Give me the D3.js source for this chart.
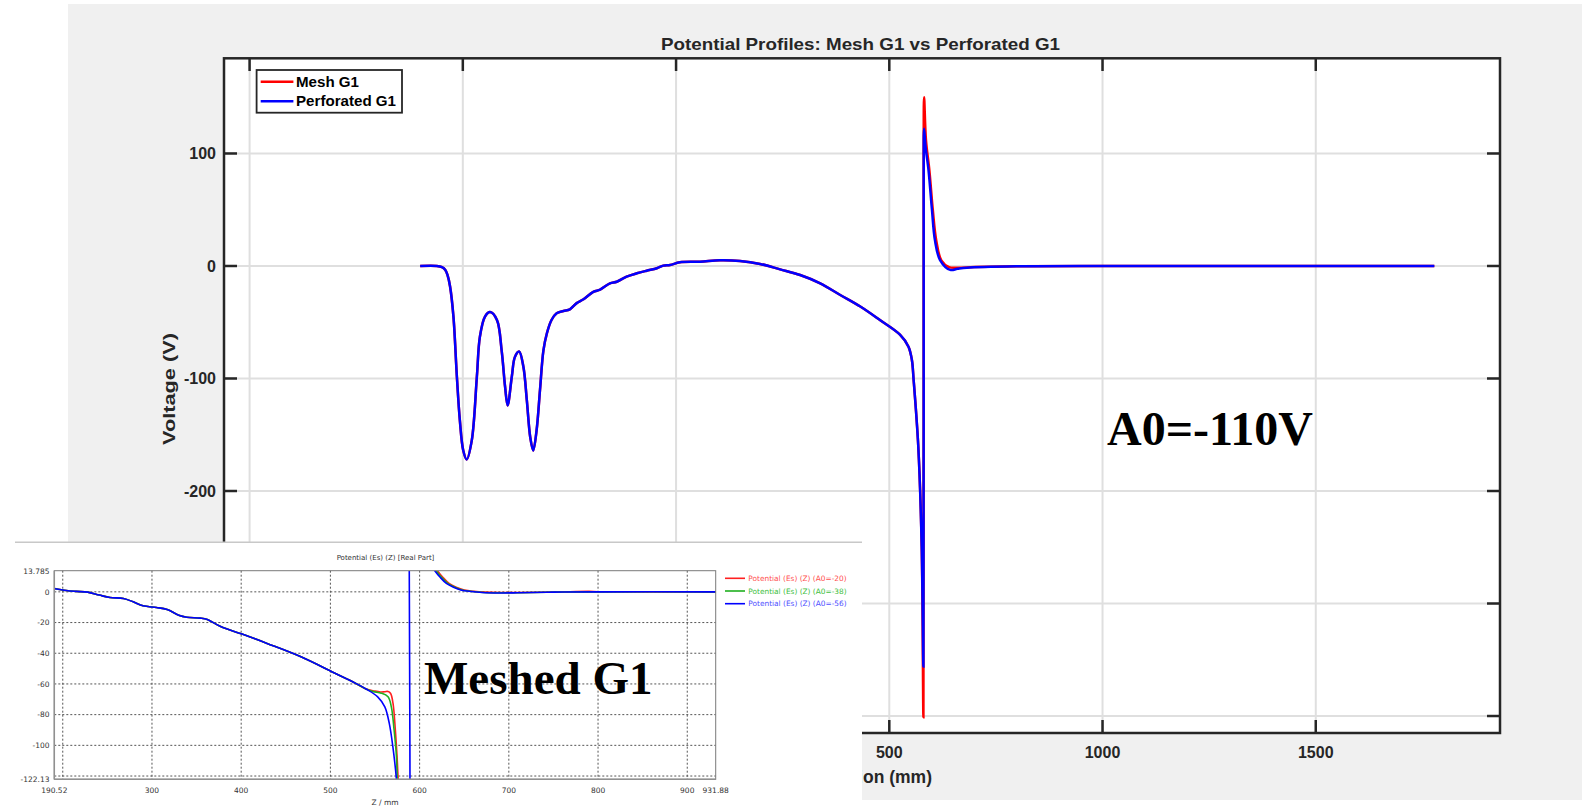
<!DOCTYPE html>
<meta charset="utf-8">
<head>
  <title>Potential Profiles: Mesh G1 vs Perforated G1</title>
  <style>
    body { margin: 0; background: #fff; }
    svg { display: block; }
  </style>
</head>
<body>
  <svg id="viz" width="1582" height="806"></svg>

  <script src="https://cdn.jsdelivr.net/npm/d3@7"></script>
  <script>
    // ---- main chart data (z in mm, voltage in V) ----
    // shared profile up to the G1 plane
    var profileZ = [-600, -561, -549, -541, -536, -530, -522, -514, -507, -499, -491, -479, -467, -460, -448, -436,
      -420, -409, -401, -395, -385, -378, -368, -358, -350, -342, -335, -327, -319, -311, -303, -292, -280, -264,
      -249, -233, -217, -194, -178, -155, -139, -116, -92, -69, -45, -30, -14, 9, 56, 103, 150, 197, 244, 291,
      338, 385, 432, 478, 525, 545, 553, 557, 568, 576];
    var profileV = [0, 0, -1, -3.5, -8, -18, -45, -98, -137, -164, -172, -155, -98, -63, -45, -41,
      -48, -75, -107, -124, -98, -81, -76, -89.5, -119, -152, -164, -146, -110, -75, -60, -48, -42, -40,
      -38.5, -33, -29.6, -23, -21, -15.4, -14, -9.5, -6.5, -4.2, -2, 0.3, 0.9, 3.3, 3.8, 5, 4.4, 1.8, -3, -8,
      -15.4, -25.8, -36, -48, -61, -71.7, -83.6, -101, -160.6, -249.5];

    // spike at the grid plane and relaxation, per series
    var meshZ = [580, 580.6, 581.6, 586, 594, 602, 610, 622, 640, 660, 700, 800, 1000, 1300, 1600, 1778];
    var meshV = [-401, 100, 150, 112, 85, 50, 23, 5, -1, -1.5, -1, -0.3, 0, 0, 0, 0];
    var perfZ = [580, 580.6, 581.6, 585, 592, 600, 607, 619, 643, 660, 682, 800, 1000, 1300, 1600, 1778];
    var perfV = [-356, 80, 122, 106, 85, 50, 23, 5.3, -3.5, -2.5, -1.5, -0.3, 0, 0, 0, 0];

    var xTicks = [-1000, -500, 0, 500, 1000, 1500];
    var yTicks = [100, 0, -100, -200, -300, -400];

    // ---- inset data (Potential (Es) (Z)); null = curve leaves the window ----
    var insetBaseZ = [190.52, 204, 215, 228, 241, 253, 268, 279, 290, 305, 317, 330, 339, 354, 362, 377,
      401, 429, 467, 504, 527, 540];
    var insetBaseV = [2.2, 0.9, 0.3, -0.2, -2.1, -3.7, -4.3, -6.5, -9.1, -10.2, -11.5, -15.2, -16.5, -17.1,
      -18, -22.6, -27.5, -33.6, -42.3, -52.7, -59.2, -63.3];
    var insetRedZ = [549.5, 556, 560.8, 564.6, 567.5, 570.2, 572.8, 574.7, 575.9, 580, 584, 587.6, 598, 606,
      613, 620, 626, 633, 641, 650, 661, 673, 693, 713, 753, 790, 800, 931.88];
    var insetRedV = [-64.6, -65.2, -65.1, -64.9, -66.2, -72.7, -90, -107, -122, -180, null, 250, 60, 30,
      20, 13.8, 9.5, 5.5, 3, 1.2, 0.3, -0.2, -0.4, -0.4, -0.1, 0.3, 0.1, 0];
    var insetGreenZ = [548, 557, 564.6, 568.3, 571.4, 574, 575, 580, 584, 587.6, 596.5, 604.5, 611.5, 618.5,
      624.5, 631.5, 639.5, 648.5, 659.5, 671.5, 691.5, 711.5, 751.5, 800, 931.88];
    var insetGreenV = [-65, -66, -68.4, -74.9, -90, -107, -122, -180, null, 250, 60, 30, 20, 13.8,
      9.5, 5.5, 3, 1.1, 0.2, -0.4, -0.6, -0.6, -0.2, 0, 0];
    var insetBlueZ = [553, 561, 566, 570, 574, 578, 587.4, 587.6, 595, 603, 610, 617, 623, 630, 638, 647, 658,
      670, 690, 710, 750, 800, 931.88];
    var insetBlueV = [-68.4, -74.9, -85.7, -100.9, -122, -160, -250, 250, 60, 30, 20, 13.8, 9.5, 5.5, 3,
      1.1, 0.2, -0.4, -0.7, -0.6, -0.2, 0, 0];

    var insetXTicks = [190.52, 300, 400, 500, 600, 700, 800, 900, 931.88];
    var insetXGrid = [200, 300, 400, 500, 600, 700, 800, 900];
    var insetYTicks = [13.785, 0, -20, -40, -60, -80, -100, -122.13];
    var insetYGrid = [0, -20, -40, -60, -80, -100, -120];
    var insetLabels = ['Potential (Es) (Z) (A0=-20)', 'Potential (Es) (Z) (A0=-38)', 'Potential (Es) (Z) (A0=-56)'];

    function zip(zs, vs) {
      return zs.map(function (z, i) { return { z: z, v: vs[i] }; });
    }

    var svg = d3.select('#viz');
    var ink = '#262626';
    var mainFont = '"Liberation Sans", Arial, sans-serif';

    // ================= main MATLAB-style figure =================
    var x = d3.scaleLinear().domain([-1060, 1932]).range([224, 1500]);
    var y = d3.scaleLinear().domain([184.6, -415.1]).range([58.3, 733]);

    svg.append('rect').attr('x', 68).attr('y', 4).attr('width', 1514).attr('height', 796).attr('fill', '#f0f0f0');
    svg.append('rect').attr('x', 224).attr('y', 58.3).attr('width', 1276).attr('height', 674.7).attr('fill', '#fff');

    var grid = svg.append('g').attr('stroke', '#dfdfdf').attr('stroke-width', 2);
    grid.selectAll('.gx').data(xTicks).enter().append('line')
      .attr('x1', d => x(d)).attr('x2', d => x(d)).attr('y1', 58.3).attr('y2', 733);
    grid.selectAll('.gy').data(yTicks).enter().append('line')
      .attr('y1', d => y(d)).attr('y2', d => y(d)).attr('x1', 224).attr('x2', 1500);

    svg.append('clipPath').attr('id', 'mainClip').append('rect')
      .attr('x', 224).attr('y', 58.3).attr('width', 1276).attr('height', 674.7);

    var line = d3.line().x(d => x(d.z)).y(d => y(d.v)).curve(d3.curveCatmullRom.alpha(0.5));
    var meshData = zip(profileZ.concat(meshZ), profileV.concat(meshV));
    var perfData = zip(profileZ.concat(perfZ), profileV.concat(perfV));

    var curves = svg.append('g').attr('clip-path', 'url(#mainClip)').attr('fill', 'none').attr('stroke-width', 2.5);
    curves.append('path').datum(meshData).attr('d', line).attr('stroke', '#ff0000');
    curves.append('path').datum(perfData).attr('d', line).attr('stroke', '#0000ff');

    // frame + inward ticks on all sides
    var frame = svg.append('g').attr('stroke', ink).attr('stroke-width', 2.5).attr('fill', 'none');
    frame.append('rect').attr('x', 224).attr('y', 58.3).attr('width', 1276).attr('height', 674.7);
    frame.selectAll('.tb').data(xTicks).enter().append('line')
      .attr('x1', d => x(d)).attr('x2', d => x(d)).attr('y1', 733).attr('y2', 720);
    frame.selectAll('.tt').data(xTicks).enter().append('line')
      .attr('x1', d => x(d)).attr('x2', d => x(d)).attr('y1', 58.3).attr('y2', 71);
    frame.selectAll('.tl').data(yTicks).enter().append('line')
      .attr('y1', d => y(d)).attr('y2', d => y(d)).attr('x1', 224).attr('x2', 237);
    frame.selectAll('.tr').data(yTicks).enter().append('line')
      .attr('y1', d => y(d)).attr('y2', d => y(d)).attr('x1', 1500).attr('x2', 1487);

    var labels = svg.append('g').attr('font-family', mainFont).attr('font-weight', 'bold').attr('fill', ink);
    labels.selectAll('.xl').data(xTicks).enter().append('text')
      .attr('x', d => x(d)).attr('y', 758).attr('text-anchor', 'middle').attr('font-size', 16)
      .text(d => d);
    labels.selectAll('.yl').data(yTicks).enter().append('text')
      .attr('x', 216).attr('y', d => y(d) + 6).attr('text-anchor', 'end').attr('font-size', 16)
      .text(d => d);

    labels.append('text').attr('x', 661).attr('y', 50).attr('font-size', 16.5)
      .attr('textLength', 399).attr('lengthAdjust', 'spacingAndGlyphs')
      .text('Potential Profiles: Mesh G1 vs Perforated G1');
    labels.append('text').attr('x', 932).attr('y', 783).attr('text-anchor', 'end').attr('font-size', 17.5)
      .text('Axial Position (mm)');
    labels.append('text').attr('transform', 'translate(175,445) rotate(-90)')
      .attr('font-size', 17).attr('textLength', 112).attr('lengthAdjust', 'spacingAndGlyphs')
      .text('Voltage (V)');

    // legend
    var legend = svg.append('g');
    legend.append('rect').attr('x', 256.6).attr('y', 70).attr('width', 145.4).attr('height', 42.7)
      .attr('fill', '#fff').attr('stroke', ink).attr('stroke-width', 1.8);
    var legendItems = [{ name: 'Mesh G1', color: '#ff0000', w: 63 }, { name: 'Perforated G1', color: '#0000ff', w: 100 }];
    var li = legend.selectAll('.li').data(legendItems).enter().append('g')
      .attr('transform', (d, i) => 'translate(0,' + (81.7 + i * 19.5) + ')');
    li.append('line').attr('x1', 260.7).attr('x2', 293.4).attr('stroke', d => d.color).attr('stroke-width', 2.5);
    li.append('text').attr('x', 296).attr('y', 5).attr('font-family', mainFont).attr('font-weight', 'bold')
      .attr('font-size', 14.5).attr('fill', '#000')
      .attr('textLength', d => d.w).attr('lengthAdjust', 'spacingAndGlyphs').text(d => d.name);

    svg.append('text').attr('x', 1107).attr('y', 445).attr('font-family', '"Liberation Serif", "Times New Roman", serif')
      .attr('font-weight', 'bold').attr('font-size', 48).attr('fill', '#000').text('A0=-110V');

    // ================= inset: Meshed G1 field-solver plot =================
    var inset = svg.append('g');
    inset.append('rect').attr('x', 0).attr('y', 542).attr('width', 862).attr('height', 264).attr('fill', '#fff');
    inset.append('line').attr('x1', 15).attr('x2', 862).attr('y1', 542.3).attr('y2', 542.3)
      .attr('stroke', '#c8c8c8').attr('stroke-width', 1.5);

    var ix = d3.scaleLinear().domain([190.52, 931.88]).range([54.3, 715.7]);
    var iy = d3.scaleLinear().domain([13.785, -122.13]).range([570.7, 779.3]);
    var smallFont = '"DejaVu Sans", Verdana, sans-serif';

    var ig = inset.append('g').attr('stroke', '#555').attr('stroke-width', 1).attr('stroke-dasharray', '2,2');
    ig.selectAll('.ixg').data(insetXGrid).enter().append('line')
      .attr('x1', d => ix(d)).attr('x2', d => ix(d)).attr('y1', 570.7).attr('y2', 779.3);
    ig.selectAll('.iyg').data(insetYGrid).enter().append('line')
      .attr('y1', d => iy(d)).attr('y2', d => iy(d)).attr('x1', 54.3).attr('x2', 715.7);

    inset.append('clipPath').attr('id', 'insetClip').append('rect')
      .attr('x', 54.3).attr('y', 570.7).attr('width', 661.4).attr('height', 208.6);

    var iline = d3.line().defined(d => d.v !== null)
      .x(d => ix(d.z)).y(d => iy(d.v)).curve(d3.curveCatmullRom.alpha(0.5));
    var insetSeries = [
      { color: '#ff2020', text: '#ff5050', data: zip(insetBaseZ.concat(insetRedZ), insetBaseV.concat(insetRedV)) },
      { color: '#20b020', text: '#40c040', data: zip(insetBaseZ.concat(insetGreenZ), insetBaseV.concat(insetGreenV)) },
      { color: '#0000ff', text: '#5050ff', data: zip(insetBaseZ.concat(insetBlueZ), insetBaseV.concat(insetBlueV)) }
    ];
    inset.append('g').attr('clip-path', 'url(#insetClip)').attr('fill', 'none')
      .selectAll('path').data(insetSeries).enter().append('path')
      .attr('d', d => iline(d.data)).attr('stroke', d => d.color).attr('stroke-width', 1.6);

    inset.append('rect').attr('x', 54.3).attr('y', 570.7).attr('width', 661.4).attr('height', 208.6)
      .attr('fill', 'none').attr('stroke', '#7a7a7a').attr('stroke-width', 1);
    inset.append('line').attr('x1', 54.3).attr('x2', 54.3).attr('y1', 570.7).attr('y2', 779.3)
      .attr('stroke', '#909090').attr('stroke-width', 1.5);
    inset.append('line').attr('x1', 54.3).attr('x2', 715.7).attr('y1', 779.3).attr('y2', 779.3)
      .attr('stroke', '#909090').attr('stroke-width', 1.5);

    var it = inset.append('g').attr('font-family', smallFont).attr('font-size', 7.5).attr('fill', '#333');
    it.selectAll('.iyt').data(insetYTicks).enter().append('text')
      .attr('x', 49.5).attr('y', d => iy(d) + 2.8).attr('text-anchor', 'end').text(d => d);
    it.selectAll('.ixt').data(insetXTicks).enter().append('text')
      .attr('x', d => ix(d)).attr('y', 793).attr('text-anchor', 'middle').text(d => d);
    it.append('text').attr('x', 385.5).attr('y', 560).attr('text-anchor', 'middle').attr('font-size', 7)
      .text('Potential (Es) (Z) [Real Part]');
    it.append('text').attr('x', 385).attr('y', 805).attr('text-anchor', 'middle').text('Z / mm');

    var il = inset.selectAll('.il').data(insetSeries).enter().append('g')
      .attr('transform', (d, i) => 'translate(0,' + (578.3 + i * 12.7) + ')');
    il.append('line').attr('x1', 725).attr('x2', 745).attr('stroke', d => d.color).attr('stroke-width', 1.6);
    il.append('text').attr('x', 748.3).attr('y', 2.7).attr('font-family', smallFont).attr('font-size', 7.4)
      .attr('fill', d => d.text).text((d, i) => insetLabels[i]);

    inset.append('text').attr('x', 424).attr('y', 694).attr('font-family', '"Liberation Serif", "Times New Roman", serif')
      .attr('font-weight', 'bold').attr('font-size', 47).attr('fill', '#000').text('Meshed G1');
  </script>
</body>
